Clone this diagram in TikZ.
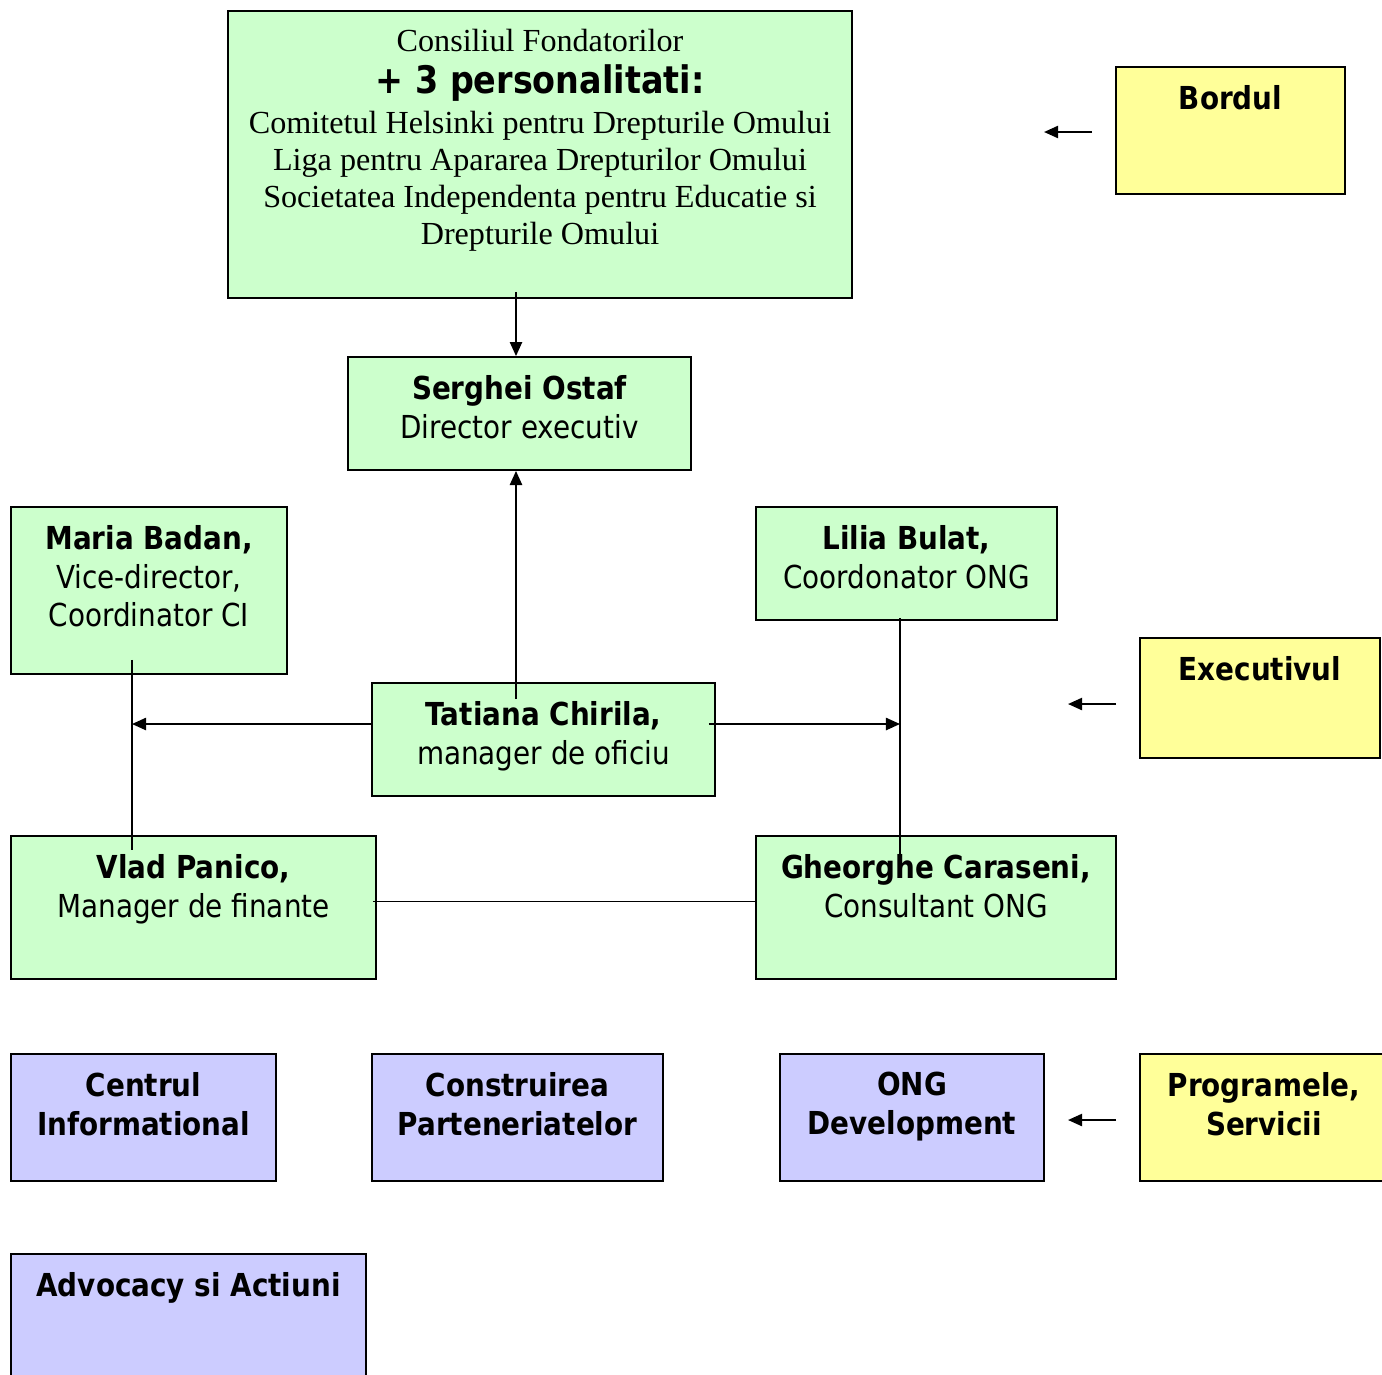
\documentclass[tikz,border=0pt]{standalone}
\usepackage{fontspec}
\setmainfont{Liberation Serif}
\newfontfamily\tahoma{DejaVu Sans}[FakeStretch=0.88]
\usepackage{xcolor}
\usetikzlibrary{arrows.meta, positioning}
\definecolor{gfill}{HTML}{CCFFCC}
\definecolor{yfill}{HTML}{FFFF99}
\definecolor{bfill}{HTML}{CCCCFF}
\newdimen\px \px=0.02cm

\begin{document}
\begin{tikzpicture}[
    x=0.02cm, y=-0.02cm,
    node distance=0.38cm,
    box/.style={draw, line width=1.1pt, inner sep=0pt},
    grn/.style={box, fill=gfill},
    ylw/.style={box, fill=yfill},
    blu/.style={box, fill=bfill},
    txt/.style={inner sep=0pt, align=center, font=\tahoma\fontsize{18}{22}\selectfont},
    serif/.style={inner sep=0pt, align=center, font=\rmfamily\fontsize{18.3}{21}\selectfont},
    arrow/.style={-{Triangle[length=8pt,width=7pt]}, line width=0.9pt},
    conn/.style={line width=0.9pt},
]
\useasboundingbox (0,0) rectangle (1382,1374);

% boxes
\node[grn, minimum width=12.48cm, minimum height=5.74cm] (fond) at (540,154.5) {};
\node[ylw, minimum width=4.58cm, minimum height=2.54cm] (bordul) at (1230.5,130.5) {};
\node[grn, minimum width=6.86cm, minimum height=2.26cm] (serghei) at (519.5,413.5) {};
\node[grn, minimum width=5.52cm, minimum height=3.34cm] (maria) at (149,590.5) {};
\node[grn, minimum width=6.02cm, minimum height=2.26cm] (lilia) at (906.5,563.5) {};
\node[ylw, minimum width=4.8cm, minimum height=2.4cm] (exec) at (1260,698) {};
\node[grn, minimum width=6.86cm, minimum height=2.26cm] (tatiana) at (543.5,739.5) {};
\node[grn, minimum width=7.3cm, minimum height=2.86cm] (vlad) at (193.5,907.5) {};
\node[grn, minimum width=7.2cm, minimum height=2.86cm] (gheorghe) at (936,907.5) {};
\node[blu, minimum width=5.3cm, minimum height=2.54cm] (centrul) at (143.5,1117.5) {};
\node[blu, minimum width=5.82cm, minimum height=2.54cm] (constr) at (517.5,1117.5) {};
\node[blu, minimum width=5.28cm, minimum height=2.54cm] (ongdev) at (912,1117.5) {};
\node[ylw, minimum width=5.2cm, minimum height=2.54cm] (prog) at (1270,1117.5) {};
\node[blu, minimum width=7.1cm, minimum height=2.92cm] (advoc) at (188.5,1327) {};

% texts
\node[serif, below=of fond.north] (fondtxt) {Consiliul Fondatorilor\\[5\px]
  {\tahoma\bfseries\fontsize{21.6}{25}\selectfont + 3 personalitati:}\\[3\px]
  Comitetul Helsinki pentru Drepturile Omului\\
  Liga pentru Apararea Drepturilor Omului\\
  Societatea Independenta pentru Educatie si\\
  Drepturile Omului};
\node[txt, below=of bordul.north] (bordultxt) {\bfseries Bordul};
\node[txt, below=of serghei.north] (sergheitxt) {\bfseries Serghei Ostaf\\Director executiv};
\node[txt, below=of maria.north] (mariatxt) {\bfseries Maria Badan,\\Vice-director,\\Coordinator CI};
\node[txt, below=of lilia.north] (liliatxt) {\bfseries Lilia Bulat,\\Coordonator ONG};
\node[txt, below=of exec.north] (exectxt) {\bfseries Executivul};
\node[txt, below=of tatiana.north] (tatianatxt) {\bfseries Tatiana Chirila,\\manager de oficiu};
\node[txt, below=of vlad.north] (vladtxt) {\bfseries Vlad Panico,\\Manager de finante};
\node[txt, below=of gheorghe.north] (gheorghetxt) {\bfseries Gheorghe Caraseni,\\Consultant ONG};
\node[txt, below=of centrul.north, font=\tahoma\bfseries\fontsize{18}{22}\selectfont] (centrultxt) {Centrul\\Informational};
\node[txt, below=of constr.north, font=\tahoma\bfseries\fontsize{18}{22}\selectfont] (constrtxt) {Construirea\\Parteneriatelor};
\node[txt, below=of ongdev.north, font=\tahoma\bfseries\fontsize{18}{22}\selectfont] (ongdevtxt) {ONG\\Development};
\node[txt, below=of prog.north, xshift=-6\px, font=\tahoma\bfseries\fontsize{18}{22}\selectfont] (progtxt) {Programele,\\Servicii};
\node[txt, below=of advoc.north, font=\tahoma\bfseries\fontsize{18}{22}\selectfont] (advoctxt) {Advocacy si Actiuni};

% connectors
\coordinate (ml) at (132,724);
\coordinate (lr) at (900,724);
\coordinate (mid) at (516,420);
\draw[arrow] ([yshift=7\px]fond.south -| mid) -- (serghei.north -| mid);
\draw[arrow] ([yshift=-17\px]tatiana.north -| mid) -- (serghei.south -| mid);
\draw[arrow] ([yshift=15.5\px]tatiana.west) -- (ml);
\draw[arrow] ([xshift=-7\px]tatiana.east |- lr) -- (lr);
\draw[conn] ([yshift=15\px]maria.south -| ml) -- ([yshift=-15\px]vlad.north -| ml);
\draw[conn] ([yshift=3\px]lilia.south -| lr) -- ([yshift=-22\px]gheorghe.north -| lr);
\draw[conn] ([xshift=-4\px,yshift=6\px]vlad.east) -- ([yshift=6\px]gheorghe.west);
\draw[arrow] ([xshift=-23\px,yshift=-1.5\px]bordul.west) -- ++(-48\px,0);
\draw[arrow] ([xshift=-23\px,yshift=-6\px]exec.west) -- ++(-48\px,0);
\draw[arrow] ([xshift=-23\px,yshift=-2.5\px]prog.west) -- ++(-48\px,0);
\end{tikzpicture}
\end{document}
